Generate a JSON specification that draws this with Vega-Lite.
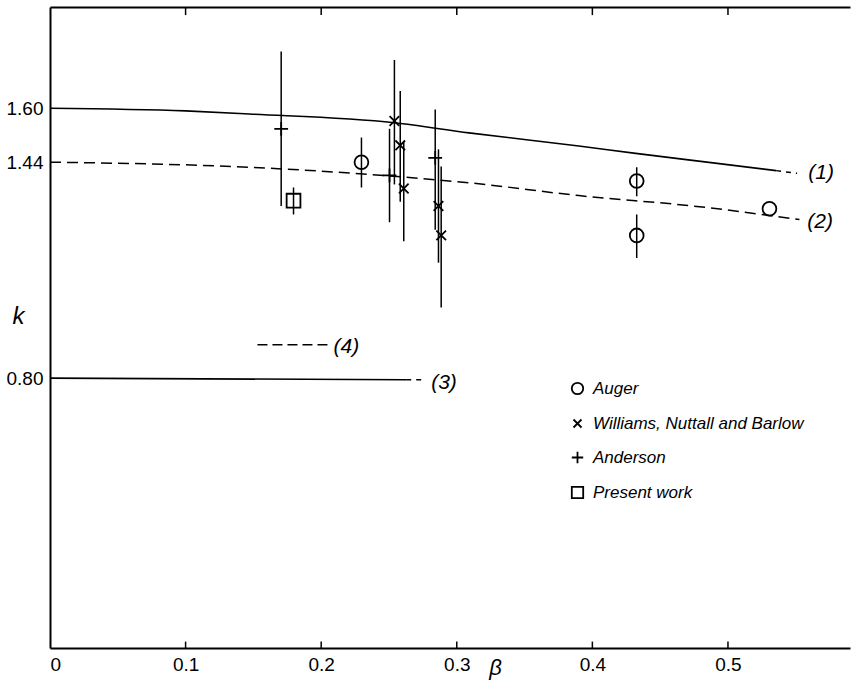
{
  "$schema": "https://vega.github.io/schema/vega-lite/v6.json",
  "width": 800,
  "height": 641,
  "autosize": {"type": "none"},
  "padding": {"left": 50, "top": 7, "right": 3, "bottom": 33},
  "background": "white",
  "config": {
    "view": {"stroke": null},
    "font": "Liberation Sans, Arial, sans-serif",
    "axis": {"grid": false, "domainColor": "black", "domainWidth": 2, "ticks": false, "labelColor": "black", "titleColor": "black"}
  },
  "datasets": {
    "points": [
      {"series": "Auger", "beta": 0.2297, "k": 1.440, "lo": 1.365, "hi": 1.513},
      {"series": "Auger", "beta": 0.4327, "k": 1.384, "lo": 1.339, "hi": 1.425},
      {"series": "Auger", "beta": 0.4327, "k": 1.223, "lo": 1.156, "hi": 1.285},
      {"series": "Auger", "beta": 0.5306, "k": 1.302, "lo": null, "hi": null},
      {"series": "Williams, Nuttall and Barlow", "beta": 0.2540, "k": 1.562, "lo": 1.374, "hi": 1.743},
      {"series": "Williams, Nuttall and Barlow", "beta": 0.2583, "k": 1.490, "lo": 1.323, "hi": 1.651},
      {"series": "Williams, Nuttall and Barlow", "beta": 0.2609, "k": 1.362, "lo": 1.206, "hi": 1.499},
      {"series": "Williams, Nuttall and Barlow", "beta": 0.2865, "k": 1.310, "lo": 1.142, "hi": 1.478},
      {"series": "Williams, Nuttall and Barlow", "beta": 0.2885, "k": 1.223, "lo": 1.009, "hi": 1.427},
      {"series": "Anderson", "beta": 0.1705, "k": 1.539, "lo": 1.310, "hi": 1.768},
      {"series": "Anderson", "beta": 0.2504, "k": 1.401, "lo": 1.262, "hi": 1.539},
      {"series": "Anderson", "beta": 0.2841, "k": 1.453, "lo": 1.240, "hi": 1.596},
      {"series": "Present work", "beta": 0.1796, "k": 1.326, "lo": 1.285, "hi": 1.365}
    ],
    "curves": [
      {"curve": "1", "beta": 0.0, "k": 1.600},
      {"curve": "1", "beta": 0.1, "k": 1.592},
      {"curve": "1", "beta": 0.147, "k": 1.583},
      {"curve": "1", "beta": 0.254, "k": 1.557},
      {"curve": "1", "beta": 0.309, "k": 1.527},
      {"curve": "1", "beta": 0.390, "k": 1.488},
      {"curve": "1", "beta": 0.432, "k": 1.466},
      {"curve": "1", "beta": 0.489, "k": 1.438},
      {"curve": "1", "beta": 0.5355, "k": 1.415},
      {"curve": "1 tail", "beta": 0.5355, "k": 1.415},
      {"curve": "1 tail", "beta": 0.551, "k": 1.407},
      {"curve": "2", "beta": 0.0, "k": 1.440},
      {"curve": "2", "beta": 0.147, "k": 1.425},
      {"curve": "2", "beta": 0.2725, "k": 1.392},
      {"curve": "2", "beta": 0.309, "k": 1.379},
      {"curve": "2", "beta": 0.390, "k": 1.341},
      {"curve": "2", "beta": 0.479, "k": 1.308},
      {"curve": "2", "beta": 0.5527, "k": 1.270},
      {"curve": "3", "beta": 0.0, "k": 0.800},
      {"curve": "3", "beta": 0.2627, "k": 0.795},
      {"curve": "3 tail", "beta": 0.2627, "k": 0.795},
      {"curve": "3 tail", "beta": 0.277, "k": 0.795},
      {"curve": "4", "beta": 0.153, "k": 0.899},
      {"curve": "4", "beta": 0.2047, "k": 0.899}
    ],
    "labels": [
      {"text": "(1)", "beta": 0.5593, "k": 1.409},
      {"text": "(2)", "beta": 0.5585, "k": 1.264},
      {"text": "(3)", "beta": 0.2811, "k": 0.786},
      {"text": "(4)", "beta": 0.2091, "k": 0.893}
    ],
    "tickrows": [
      {"beta": 0.1, "lo": 0, "hi": 0.019, "top": 1.9, "topin": 1.876},
      {"beta": 0.2, "lo": 0, "hi": 0.019, "top": 1.9, "topin": 1.876},
      {"beta": 0.3, "lo": 0, "hi": 0.019, "top": 1.9, "topin": 1.876},
      {"beta": 0.4, "lo": 0, "hi": 0.019, "top": 1.9, "topin": 1.876},
      {"beta": 0.5, "lo": 0, "hi": 0.019, "top": 1.9, "topin": 1.876}
    ]
  },
  "resolve": {"axis": {"x": "independent"}},
  "layer": [
    {
      "data": {"name": "curves"},
      "transform": [{"filter": "datum.curve == '1' || datum.curve == '3'"}],
      "mark": {"type": "line", "color": "black", "strokeWidth": 1.6, "interpolate": "monotone"},
      "encoding": {
        "x": {"field": "beta", "type": "quantitative", "scale": {"domain": [0, 0.59], "nice": false, "zero": false},
          "axis": {"orient": "bottom", "values": [0, 0.1, 0.2, 0.3, 0.4, 0.5], "labelExpr": "datum.value == 0 ? '0' : format(datum.value, '.1f')", "labelPadding": 7, "labelFontSize": 19, "labelBaseline": "top", "title": "β", "titleFontSize": 22, "titleFontStyle": "italic", "titleFontWeight": "normal", "titleX": 445, "titleY": 19, "titleBaseline": "middle", "titleAnchor": null}},
        "y": {"field": "k", "type": "quantitative", "scale": {"domain": [0, 1.9], "nice": false, "zero": false},
          "axis": {"values": [0.8, 1.44, 1.6], "format": ".2f", "labelPadding": 7, "labelFontSize": 19, "title": "k", "titleAngle": 0, "titleFontSize": 24, "titleFontStyle": "italic", "titleFontWeight": "normal", "titleX": -32, "titleY": 309, "titleAlign": "center", "titleBaseline": "middle"}},
        "detail": {"field": "curve"},
        "order": {"field": "beta"}
      }
    },
    {
      "data": {"name": "curves"},
      "transform": [{"filter": "datum.curve == '2'"}],
      "mark": {"type": "line", "color": "black", "strokeWidth": 1.5, "strokeDash": [11, 6], "interpolate": "monotone"},
      "encoding": {
        "x": {"field": "beta", "type": "quantitative",
          "axis": {"orient": "top", "values": [0.1, 0.2, 0.3, 0.4, 0.5], "labels": false, "title": null}},
        "y": {"field": "k", "type": "quantitative"},
        "order": {"field": "beta"}
      }
    },
    {
      "data": {"name": "curves"},
      "transform": [{"filter": "datum.curve == '4'"}],
      "mark": {"type": "line", "color": "black", "strokeWidth": 1.5, "strokeDash": [10, 5]},
      "encoding": {
        "x": {"field": "beta", "type": "quantitative", "axis": null},
        "y": {"field": "k", "type": "quantitative"},
        "order": {"field": "beta"}
      }
    },
    {
      "data": {"name": "curves"},
      "transform": [{"filter": "datum.curve == '1 tail' || datum.curve == '3 tail'"}],
      "mark": {"type": "line", "color": "black", "strokeWidth": 1.5, "strokeDash": [5, 5]},
      "encoding": {
        "x": {"field": "beta", "type": "quantitative", "axis": null},
        "y": {"field": "k", "type": "quantitative"},
        "detail": {"field": "curve"},
        "order": {"field": "beta"}
      }
    },
    {
      "data": {"name": "tickrows"},
      "mark": {"type": "rule", "color": "black", "strokeWidth": 1.5},
      "encoding": {
        "x": {"field": "beta", "type": "quantitative", "axis": null},
        "y": {"field": "lo", "type": "quantitative"},
        "y2": {"field": "hi"}
      }
    },
    {
      "data": {"name": "tickrows"},
      "mark": {"type": "rule", "color": "black", "strokeWidth": 1.5},
      "encoding": {
        "x": {"field": "beta", "type": "quantitative", "axis": null},
        "y": {"field": "topin", "type": "quantitative"},
        "y2": {"field": "top"}
      }
    },
    {
      "data": {"name": "labels"},
      "mark": {"type": "text", "align": "left", "baseline": "middle", "fontSize": 21, "fontStyle": "italic", "color": "black"},
      "encoding": {
        "x": {"field": "beta", "type": "quantitative", "axis": null},
        "y": {"field": "k", "type": "quantitative"},
        "text": {"field": "text"}
      }
    },
    {
      "data": {"name": "points"},
      "transform": [{"filter": "datum.lo != null"}],
      "mark": {"type": "rule", "color": "black", "strokeWidth": 1.5},
      "encoding": {
        "x": {"field": "beta", "type": "quantitative", "axis": null},
        "y": {"field": "lo", "type": "quantitative"},
        "y2": {"field": "hi"}
      }
    },
    {
      "data": {"name": "points"},
      "mark": {"type": "point", "filled": false, "color": "black", "strokeWidth": 1.8, "size": 190, "opacity": 1},
      "encoding": {
        "x": {"field": "beta", "type": "quantitative", "axis": null},
        "y": {"field": "k", "type": "quantitative"},
        "shape": {"field": "series", "type": "nominal",
          "scale": {"domain": ["Auger", "Williams, Nuttall and Barlow", "Anderson", "Present work"],
                    "range": ["circle", "M-0.7,-0.7L0.7,0.7M-0.7,0.7L0.7,-0.7", "M-1,0L1,0M0,-1L0,1", "square"]},
          "legend": {"orient": "none", "legendX": 519, "legendY": 373, "title": null, "padding": 0, "labelFontSize": 17, "labelFontStyle": "italic", "labelColor": "black", "labelLimit": 0, "symbolSize": 130, "symbolStrokeColor": "black", "symbolStrokeWidth": 1.8, "rowPadding": 16, "labelOffset": 7}}
      }
    }
  ]
}
